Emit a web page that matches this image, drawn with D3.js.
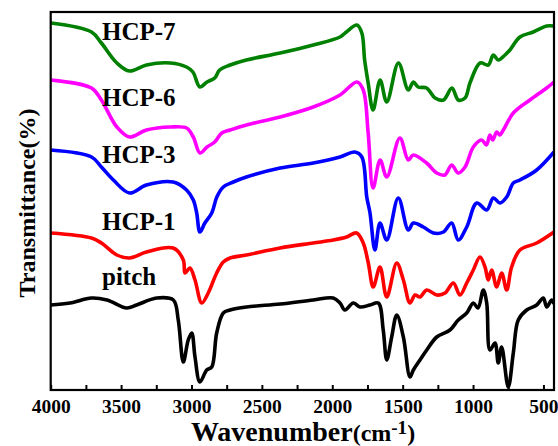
<!DOCTYPE html>
<html>
<head>
<meta charset="utf-8">
<script src="https://cdn.jsdelivr.net/npm/d3@7"></script>
<style>
  body { margin: 0; background: #fff; }
  text { font-family: "Liberation Serif", "Times New Roman", serif; font-weight: bold; }
</style>
</head>
<body>
<div id="chart"></div>
<script>
// wavenumber (cm-1) and transmittance (arbitrary units, stacked)
const pitchWn = [4000,3863,3710,3600,3460,3390,3247,3129,3094,3058,3023,2998,2975,2940,2892,2856,2821,2774,2726,2610,2370,2135,1993,1945,1910,1851,1803,1732,1673,1638,1613,1578,1542,1495,1448,1424,1377,1329,1258,1164,1105,1045,998,965,927,903,880,844,821,797,750,714,679,619,548,501,477,441,425];
const pitchT  = [85,87,92,90,82,85,92,90,70,28,50,57,33,8,20,23,57,77,80,83,86,90,92,87,80,87,83,85,87,60,30,53,75,53,13,20,30,40,53,60,70,77,87,82,100,87,40,47,27,43,3,37,70,80,85,92,83,90,86];

const hcp1Wn = [4000,3710,3640,3530,3440,3320,3130,3058,3046,3011,2975,2927,2881,2821,2774,2726,2610,2370,2135,1993,1898,1827,1780,1744,1709,1661,1613,1542,1495,1448,1412,1377,1329,1258,1199,1140,1093,1045,998,951,915,892,868,832,797,761,726,667,548,425];
const hcp1T  = [157,152,147,135,132,138,142,130,117,122,110,87,97,117,128,132,135,142,147,150,153,157,147,127,103,123,93,127,110,87,95,93,100,95,97,107,95,107,120,133,123,110,120,103,117,100,123,140,147,158];

const hcp3Wn = [4000,3710,3640,3555,3440,3320,3130,3035,2987,2963,2940,2905,2856,2820,2774,2703,2610,2370,2135,1945,1840,1790,1755,1732,1697,1661,1613,1531,1460,1424,1353,1282,1211,1152,1105,1045,974,903,856,809,761,714,667,548,425];
const hcp3T  = [240,233,223,210,197,205,208,200,190,177,158,167,177,193,203,208,213,222,227,233,238,233,193,177,140,167,150,192,160,167,163,157,158,167,150,163,187,180,192,187,193,207,210,220,238];

const hcp6Wn = [4000,3710,3640,3530,3440,3320,3150,3035,2987,2940,2890,2835,2785,2725,2610,2370,2135,1945,1825,1780,1745,1710,1660,1613,1520,1460,1424,1330,1258,1200,1152,1105,1057,998,939,905,880,860,832,810,785,714,596,477,425];
const hcp6T  = [310,302,290,263,253,260,263,262,253,237,243,248,257,260,265,273,283,295,308,300,257,202,230,213,252,230,235,227,217,215,225,217,223,243,250,245,255,250,258,255,260,277,290,302,308];

const hcp7Wn = [4000,3710,3640,3530,3440,3320,3150,3035,2990,2940,2890,2835,2800,2725,2610,2370,2135,1945,1900,1825,1790,1770,1745,1710,1660,1613,1530,1460,1424,1390,1330,1270,1210,1150,1105,1057,1022,950,892,856,821,773,738,667,572,477,425];
const hcp7T  = [367,358,347,327,319,325,327,323,318,303,308,312,320,325,330,337,345,353,358,365,357,330,307,280,310,288,327,300,308,303,302,292,290,302,290,292,307,327,325,335,330,335,340,353,358,364,364];

const seriesNames  = ['pitch', 'HCP-1', 'HCP-3', 'HCP-6', 'HCP-7'];
const seriesColors = ['#000000', '#ff0000', '#0000ff', '#ff00ff', '#008000'];
const xTicks = [4000,3750,3500,3250,3000,2750,2500,2250,2000,1750,1500,1250,1000,750,500];

const series = [
  {name: seriesNames[0], wn: pitchWn, t: pitchT, color: seriesColors[0], ly: 285},
  {name: seriesNames[1], wn: hcp1Wn,  t: hcp1T,  color: seriesColors[1], ly: 230},
  {name: seriesNames[2], wn: hcp3Wn,  t: hcp3T,  color: seriesColors[2], ly: 163},
  {name: seriesNames[3], wn: hcp6Wn,  t: hcp6T,  color: seriesColors[3], ly: 106},
  {name: seriesNames[4], wn: hcp7Wn,  t: hcp7T,  color: seriesColors[4], ly: 40}
];

const W = 558, H = 446;
const box = {left: 50.7, right: 554, top: 12, bottom: 390};

const svg = d3.select('#chart')
  .append('svg')
    .attr('width', W)
    .attr('height', H);

const xScale = d3.scaleLinear().domain([4000, 425]).range([box.left, box.right]);
const yScale = d3.scaleLinear().domain([0, 378]).range([box.bottom, box.top]);

svg.append('clipPath')
    .attr('id', 'clip')
  .append('rect')
    .attr('x', box.left).attr('y', box.top)
    .attr('width', box.right - box.left).attr('height', box.bottom - box.top);

const line = d3.line()
  .x(d => xScale(d[0]))
  .y(d => yScale(d[1]))
  .curve(d3.curveCatmullRom.alpha(0.5));

series.forEach(s => {
  const pts = s.wn.map((w, i) => [w, s.t[i]]);
  svg.append('path')
    .datum(pts)
    .attr('clip-path', 'url(#clip)')
    .attr('fill', 'none')
    .attr('stroke', s.color)
    .attr('stroke-width', 3.6)
    .attr('stroke-linejoin', 'round')
    .attr('d', line);
});

// frame
svg.append('rect')
  .attr('x', box.left).attr('y', box.top)
  .attr('width', box.right - box.left).attr('height', box.bottom - box.top)
  .attr('fill', 'none')
  .attr('stroke', '#000')
  .attr('stroke-width', 2.2);

// x axis, ticks pointing inwards
const xAxis = d3.axisBottom(xScale)
  .tickValues(xTicks)
  .tickSizeInner(-5)
  .tickSizeOuter(0)
  .tickPadding(9)
  .tickFormat(d => d % 500 === 0 ? d : '');

const gx = svg.append('g')
  .attr('transform', `translate(0,${box.bottom})`)
  .call(xAxis);
gx.select('.domain').remove();
gx.selectAll('line').attr('stroke', '#000').attr('stroke-width', 2);
gx.selectAll('text')
  .attr('fill', '#000')
  .attr('font-size', '19.5px')
  .style('font-family', '"Liberation Serif", "Times New Roman", serif')
  .style('font-weight', 'bold');

// series labels
series.forEach(s => {
  svg.append('text')
    .attr('x', 102)
    .attr('y', s.ly)
    .attr('font-size', '25px')
    .attr('fill', '#000')
    .text(s.name);
});

// axis titles
const xt = svg.append('text')
  .attr('x', 303)
  .attr('y', 441)
  .attr('text-anchor', 'middle')
  .attr('font-size', '28px');
xt.append('tspan').text('Wavenumber');
xt.append('tspan').attr('font-size', '24px').text('(cm');
xt.append('tspan').attr('font-size', '19px').attr('dy', -7).text('-1');
xt.append('tspan').attr('font-size', '24px').attr('dy', 7).text(')');

svg.append('text')
  .attr('transform', `translate(35,203) rotate(-90)`)
  .attr('text-anchor', 'middle')
  .attr('font-size', '24px')
  .text('Transmittance(%)');
</script>
</body>
</html>
